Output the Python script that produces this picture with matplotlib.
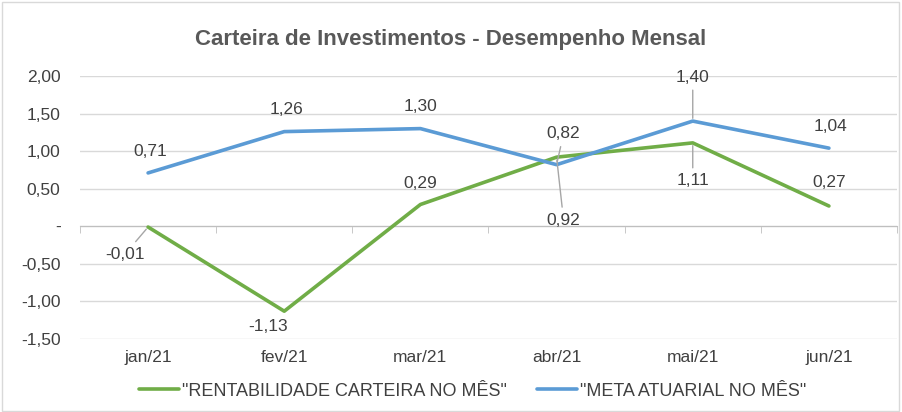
import matplotlib.pyplot as plt
import numpy as np
from matplotlib.patches import Rectangle

plt.rcParams["font.family"] = ["Liberation Sans", "DejaVu Sans"]

months = ["jan/21", "fev/21", "mar/21", "abr/21", "mai/21", "jun/21"]
rentabilidade = [-0.01, -1.13, 0.29, 0.92, 1.11, 0.27]
meta = [0.71, 1.26, 1.30, 0.82, 1.40, 1.04]
yticks = [2.0, 1.5, 1.0, 0.5, 0.0, -0.5, -1.0, -1.5]

GREEN = "#70AD47"
BLUE = "#5B9BD5"
TXT = "#404040"
GRID = "#d9d9d9"
FS = 12.5


def fmt(v):
    if abs(v) < 1e-9:
        return "-"
    return f"{v:.2f}".replace(".", ",")


fig = plt.figure(figsize=(9.02, 4.12), dpi=100)
ax = fig.add_axes([80 / 902, 1 - 339 / 412, 817 / 902, 263 / 412])
fig.patches.append(Rectangle((0.002, 0.003), 0.995, 0.993, transform=fig.transFigure,
                             fill=False, edgecolor="#d9d9d9", lw=1))

x = np.arange(len(months))
ax.plot(x, rentabilidade, color=GREEN, lw=2.6, solid_capstyle="round", zorder=3,
        label='"RENTABILIDADE CARTEIRA NO MÊS"')
ax.plot(x, meta, color=BLUE, lw=2.6, solid_capstyle="round", zorder=3,
        label='"META ATUARIAL NO MÊS"')

ax.set_xlim(-0.5, len(months) - 0.5)
ax.set_ylim(-1.5, 2.0)
ax.set_yticks(yticks)
ax.set_yticklabels([fmt(v) for v in yticks], fontsize=FS, color=TXT)
ax.tick_params(axis="y", length=0, pad=14)
ax.grid(axis="y", color=GRID, lw=1)
ax.set_axisbelow(True)
for s in ["top", "right", "left"]:
    ax.spines[s].set_visible(False)

# category axis crossing at zero, tick marks between categories
ax.spines["bottom"].set_position(("data", 0))
ax.spines["bottom"].set_color("#bfbfbf")
ax.set_xticks(x)
ax.set_xticklabels([])
ax.tick_params(axis="x", which="major", length=0)
ax.set_xticks(np.arange(len(months) + 1) - 0.5, minor=True)
ax.tick_params(axis="x", which="minor", length=5, color="#bfbfbf", direction="out")

sec = ax.secondary_xaxis("bottom")
sec.set_xticks(x)
sec.set_xticklabels(months, fontsize=FS, color=TXT)
sec.tick_params(length=0, pad=8)
sec.spines["bottom"].set_visible(False)

# data labels (offsets in pixels), leader lines where Excel moved the label away
blue_off = [(2, 21), (2, 22), (0, 22), (7, 31), (0, 44), (2, 22)]
blue_lead = [False, False, False, True, True, False]
green_off = [(-23, -27), (-16, -15), (0, 21), (7, -63), (0, -38), (0, 23)]
green_lead = [True, False, False, True, True, False]

for vals, offs, leads in [(meta, blue_off, blue_lead), (rentabilidade, green_off, green_lead)]:
    for i, (v, o, lead) in enumerate(zip(vals, offs, leads)):
        kw = {}
        if lead:
            kw["arrowprops"] = dict(arrowstyle="-", color="#a6a6a6", lw=1, shrinkA=2, shrinkB=2)
        ax.annotate(fmt(v), xy=(i, v), xytext=o, textcoords="offset pixels",
                    ha="center", va="center", fontsize=FS, color=TXT, zorder=4, **kw)

fig.text(0.5, 1 - 40 / 412, "Carteira de Investimentos - Desempenho Mensal",
         ha="center", va="center", fontsize=16, fontweight="bold", color="#595959")

fig.legend(loc="center", bbox_to_anchor=(0.524, 1 - 391 / 412), ncol=2, frameon=False,
           fontsize=13, handlelength=2.2, handletextpad=0.15, columnspacing=1.7,
           labelcolor=TXT)

fig.savefig("out.png", dpi=100, facecolor="white")
